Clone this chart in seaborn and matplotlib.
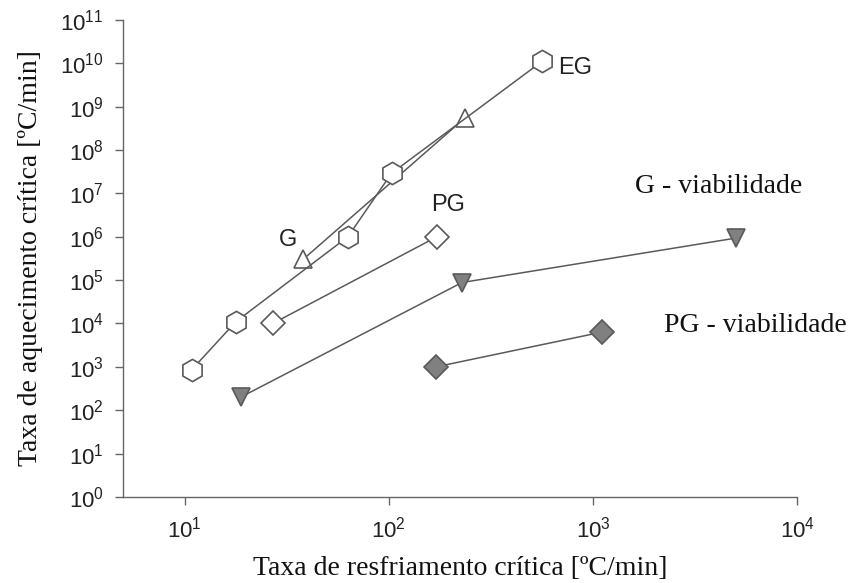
import matplotlib
matplotlib.use("Agg")
import matplotlib.pyplot as plt
import matplotlib.ticker as mticker
import seaborn as sns
import numpy as np

# Data
eg_x = [10.8, 17.8, 63, 103, 562]
eg_y = [850, 1.1e4, 1.0e6, 2.9e7, 1.1e10]
g_x = [38, 236]
g_y = [3.0e5, 5.5e8]
pg_x = [27, 172]
pg_y = [1.0e4, 1.0e6]
gv_x = [18.8, 228, 5000]
gv_y = [200, 8.8e4, 9.3e5]
pgv_x = [170, 1100]
pgv_y = [1000, 6300]

sns.set_theme(style="ticks")
plt.rcParams['font.family'] = ['Liberation Sans', 'DejaVu Sans']

fig = plt.figure(figsize=(8.5, 5.83), dpi=100)
ax = fig.add_axes([0.145, 0.1475, 0.793, 0.8185])

lc = "#5a5a5a"
common = dict(color=lc, linewidth=1.1, markeredgecolor=lc, markeredgewidth=1.2,
              sort=False, estimator=None, ax=ax)

sns.lineplot(x=g_x, y=g_y, marker='^', markersize=13, markerfacecolor='white', zorder=2, **common)
sns.lineplot(x=eg_x, y=eg_y, marker='h', markersize=16, markerfacecolor='white', zorder=3, **common)
sns.lineplot(x=pg_x, y=pg_y, marker='D', markersize=12, markerfacecolor='white', zorder=3, **common)
sns.lineplot(x=gv_x, y=gv_y, marker='v', markersize=13, markerfacecolor='#808080', zorder=3, **common)
sns.lineplot(x=pgv_x, y=pgv_y, marker='D', markersize=12, markerfacecolor='#808080', zorder=3, **common)

ax.set_xscale('log')
ax.set_yscale('log')
ax.set_xlim(5.0, 1e4)
ax.set_ylim(1, 1e11)
ax.set_xticks([10, 100, 1000, 10000])
ax.set_yticks([10.0**k for k in range(0, 12)])
ax.xaxis.set_minor_locator(mticker.NullLocator())
ax.yaxis.set_minor_locator(mticker.NullLocator())

for s in ['top', 'right']:
    ax.spines[s].set_visible(False)
for s in ['left', 'bottom']:
    ax.spines[s].set_color('#666666')
    ax.spines[s].set_linewidth(1.0)
ax.tick_params(axis='both', colors='#666666', labelcolor='#222222', labelsize=16,
               length=6, width=1.0, direction='out')
ax.tick_params(axis='x', pad=8)
ax.tick_params(axis='y', pad=8)

serif = ['Liberation Serif', 'DejaVu Serif']
ax.set_xlabel('Taxa de resfriamento crítica [ºC/min]', fontsize=20, family=serif, color='#111111', labelpad=10)
ax.set_ylabel('Taxa de aquecimento crítica [ºC/min]', fontsize=20, family=serif, color='#111111', labelpad=12)

ax.text(673, 7.6e9, 'EG', fontsize=17, va='center', ha='left', color='#222222')
ax.text(32, 8.3e5, 'G', fontsize=17, va='center', ha='center', color='#222222')
ax.text(195, 5.3e6, 'PG', fontsize=17, va='center', ha='center', color='#222222')
ax.text(4100, 1.47e7, 'G - viabilidade', fontsize=20, va='center', ha='center', family=serif, color='#111111')
ax.text(6220, 9.2e3, 'PG - viabilidade', fontsize=20, va='center', ha='center', family=serif, color='#111111')

fig.savefig('out.png', dpi=100)
